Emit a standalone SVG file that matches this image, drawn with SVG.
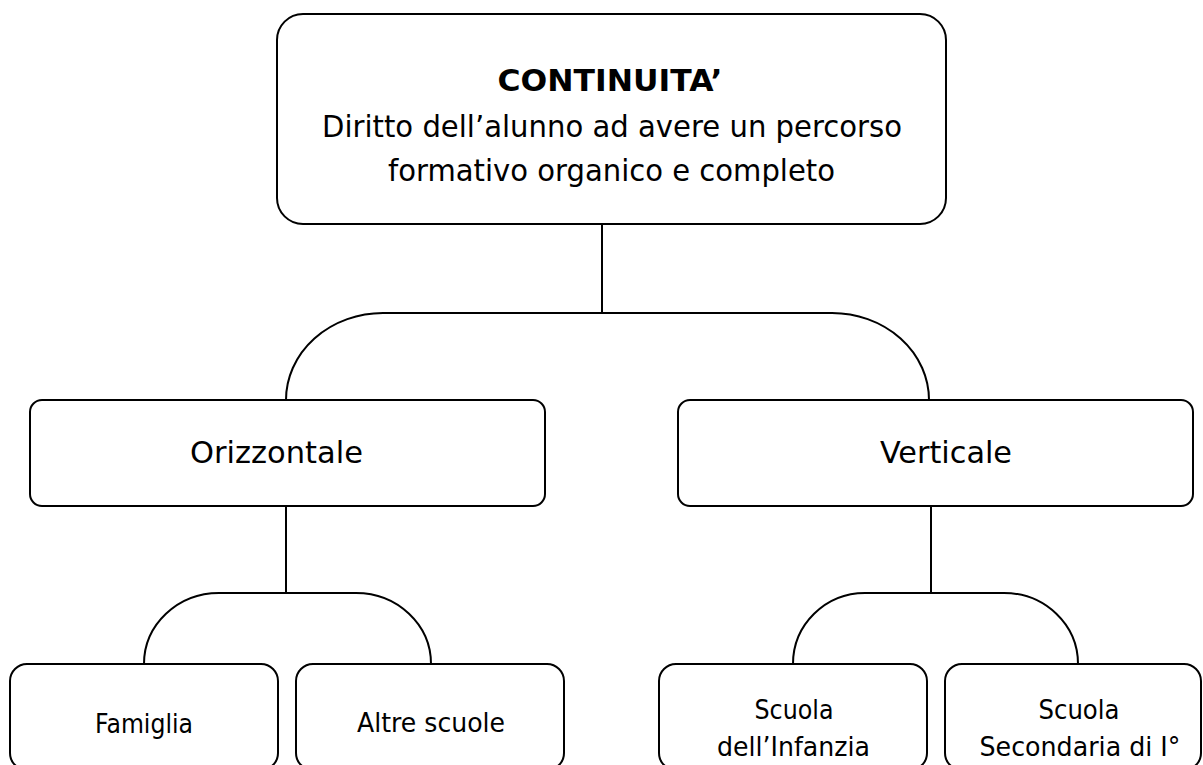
<svg xmlns="http://www.w3.org/2000/svg" width="1203" height="765" viewBox="0 0 1203 765">
<style>
.box{fill:#fff;stroke:#000;stroke-width:2}
.con{fill:none;stroke:#000;stroke-width:2}
text{font-family:"DejaVu Sans","Liberation Sans",sans-serif;fill:#000;text-anchor:middle}
.t1{font-size:31px;font-weight:bold}
.t2{font-size:31px}
.t3{font-size:30px}
.t4{font-size:27px}
</style>
<rect width="1203" height="765" fill="#fff"/>
<g id="connectors">
<path class="con" d="M602 224 V313"/>
<path class="con" d="M286 400 A97 87 0 0 1 383 313 H832 A97 87 0 0 1 929 400"/>
<path class="con" d="M286 506 V593"/>
<path class="con" d="M144 664 A75 71 0 0 1 219 593 H356 A75 71 0 0 1 431 664"/>
<path class="con" d="M931 506 V593"/>
<path class="con" d="M793 664 A72 71 0 0 1 865 593 H1004 A74 71 0 0 1 1078 664"/>
</g>
<g id="continuita">
<rect class="box" x="277" y="14" width="669" height="210" rx="26"/>
<text class="t1" x="610" y="91" textLength="225" lengthAdjust="spacingAndGlyphs">CONTINUITA’</text>
<text class="t2" x="612" y="137" textLength="580" lengthAdjust="spacingAndGlyphs">Diritto dell’alunno ad avere un percorso</text>
<text class="t2" x="611.5" y="181" textLength="447" lengthAdjust="spacingAndGlyphs">formativo organico e completo</text>
</g>
<g id="orizzontale">
<rect class="box" x="30" y="400" width="515" height="106" rx="12"/>
<text class="t3" x="276.5" y="463" textLength="173" lengthAdjust="spacingAndGlyphs">Orizzontale</text>
</g>
<g id="verticale">
<rect class="box" x="678" y="400" width="515" height="106" rx="12"/>
<text class="t3" x="946" y="463" textLength="132" lengthAdjust="spacingAndGlyphs">Verticale</text>
</g>
<g id="famiglia">
<rect class="box" x="10" y="664" width="268" height="106" rx="17"/>
<text class="t4" x="144" y="733" textLength="98" lengthAdjust="spacingAndGlyphs">Famiglia</text>
</g>
<g id="altre-scuole">
<rect class="box" x="296" y="664" width="268" height="106" rx="17"/>
<text class="t4" x="431" y="732" textLength="148" lengthAdjust="spacingAndGlyphs">Altre scuole</text>
</g>
<g id="scuola-infanzia">
<rect class="box" x="659" y="664" width="268" height="106" rx="17"/>
<text class="t4" x="794" y="719" textLength="79" lengthAdjust="spacingAndGlyphs">Scuola</text>
<text class="t4" x="793.5" y="756" textLength="153" lengthAdjust="spacingAndGlyphs">dell’Infanzia</text>
</g>
<g id="scuola-secondaria">
<rect class="box" x="945" y="664" width="256" height="106" rx="17"/>
<text class="t4" x="1079" y="719" textLength="81" lengthAdjust="spacingAndGlyphs">Scuola</text>
<text class="t4" x="1080" y="756" textLength="201" lengthAdjust="spacingAndGlyphs">Secondaria di I°</text>
</g>
</svg>
